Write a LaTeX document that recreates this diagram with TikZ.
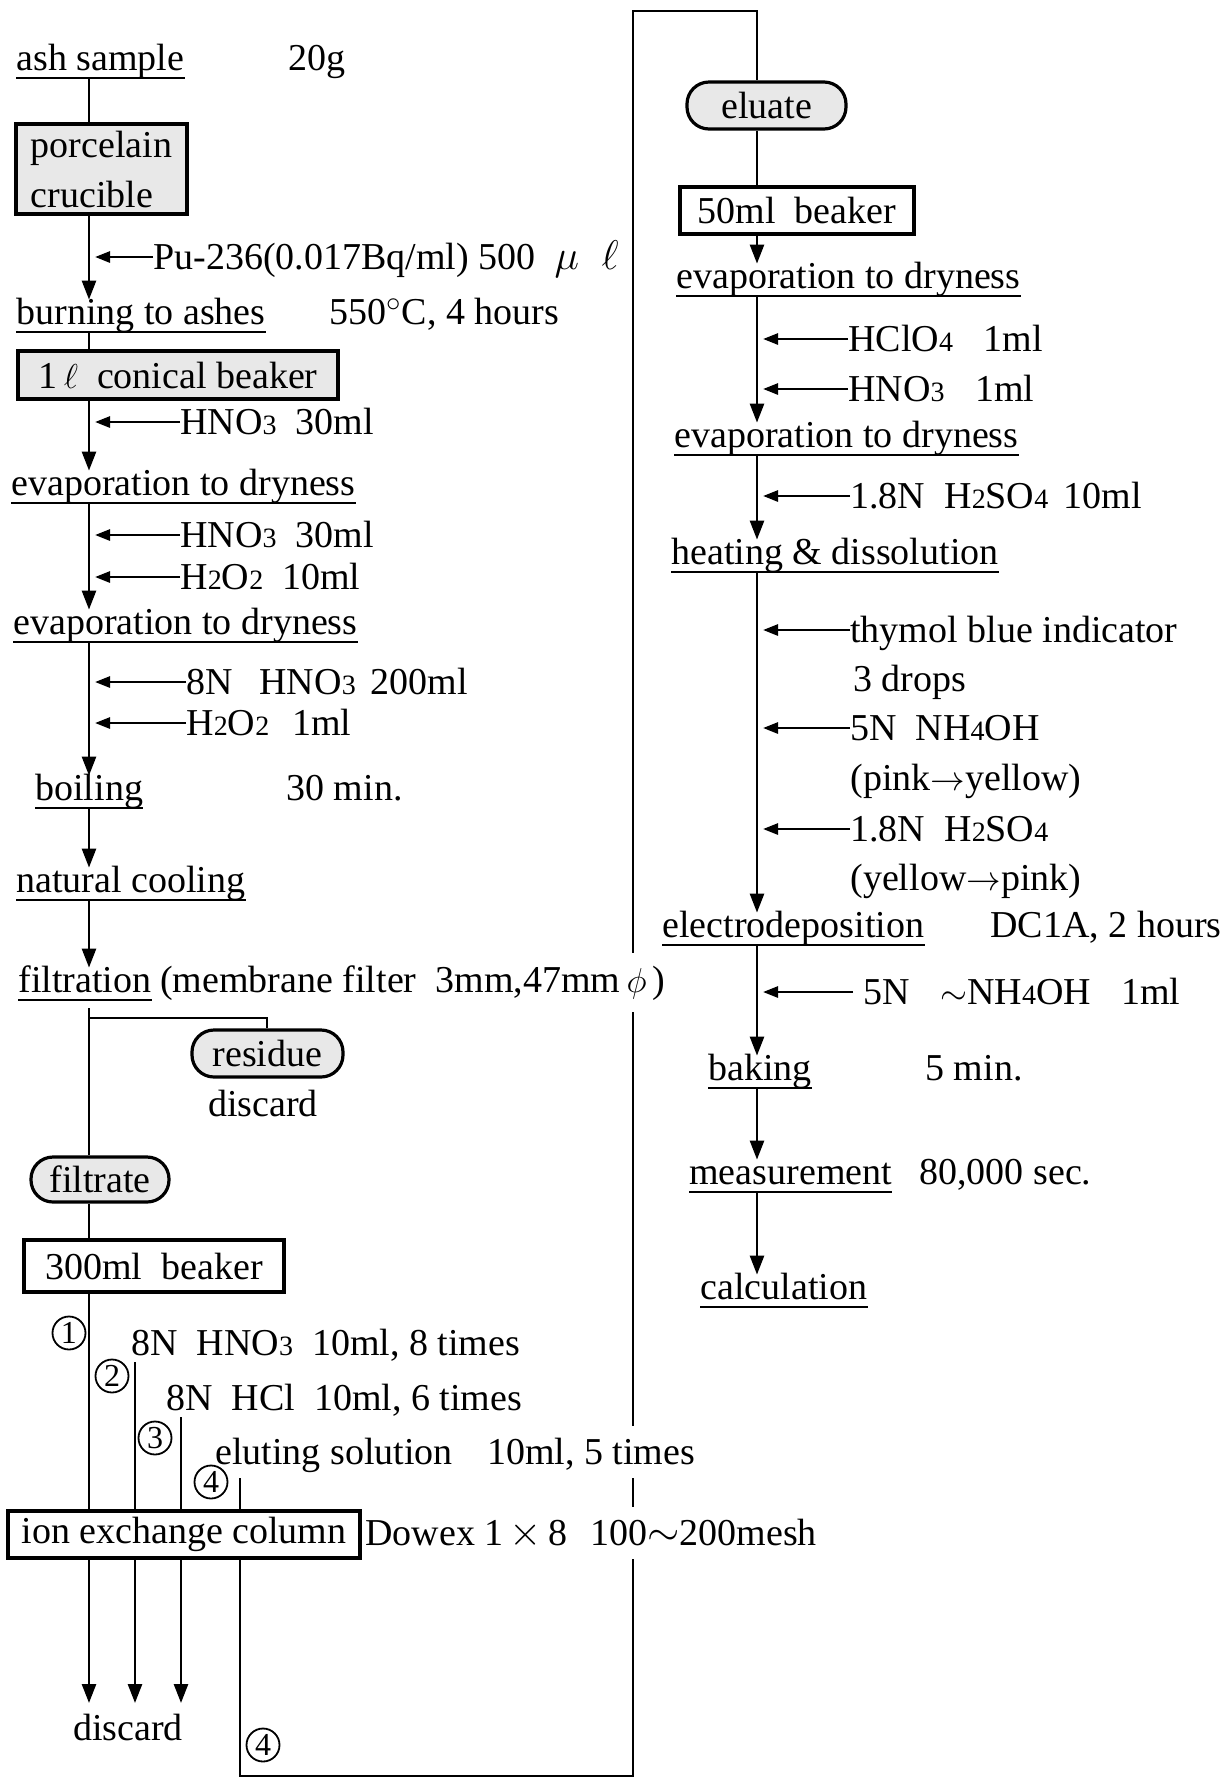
\documentclass[tikz,border=0pt]{standalone}
\usepackage{fontspec}
\setmainfont{Liberation Serif}
\usetikzlibrary{arrows.meta,backgrounds}
\newcommand\chemsub[1]{{\fontsize{14}{14}\selectfont #1}}
\newcommand\bigsym[1]{{\fontsize{22}{22}\selectfont$#1$}}
\begin{document}
\begin{tikzpicture}[x=0.5pt,y=-0.5pt,
  every node/.style={font=\fontsize{19}{23}\selectfont},
  ul/.style={inner sep=0pt, text height=12pt, text depth=4pt, anchor=base west},
  side/.style={inner sep=0pt, text height=13pt, text depth=1pt, anchor=west},
  plain/.style={inner sep=0pt, anchor=base west},
  box/.style={draw, line width=1.6pt, inner sep=0pt},
  gbox/.style={box, fill=black!9},
  rbox/.style={box, fill=black!9, rounded corners=11pt},
  num/.style={circle, draw, line width=0.9pt, minimum size=16.5pt, inner sep=0pt, font=\fontsize{16}{16}\selectfont},
  ln/.style={line width=1.3pt},
  arr/.style={ln, -{Triangle[length=9.5pt,width=7pt]}},
  sarr/.style={line width=1.3pt, -{Triangle[length=7.5pt,width=5.5pt]}},
]
\useasboundingbox (0,0) rectangle (1220,1779);
% ---------- left column ----------
\node[ul] (ash) at (16,70) {ash sample};
\node[plain] (g20) at (288,70) {20g};
\node[gbox, minimum width=85.5pt, minimum height=45pt, align=left, font=\fontsize{19}{25}\selectfont] (pc) at (101.5,169) {porcelain\\crucible};
\node[side] (pu) at (153,257) {Pu-236(0.017Bq/ml) 500\hspace{0.5em}\bigsym{\mu}\hspace{0.6em}\bigsym{\ell}};
\node[ul] (burn) at (16,324) {burning to ashes};
\node[plain] (t550) at (329,324) {550${}^{\circ}$C, 4 hours};
\node[gbox, minimum width=160pt, minimum height=24pt] (con) at (178,375) {1\,$\ell$\hspace{0.5em}conical beaker};
\node[side] (a1) at (180,422) {HNO\chemsub3\hspace{0.5em}30ml};
\node[ul] (ev1) at (11,495) {evaporation to dryness};
\node[side] (a2) at (180,535) {HNO\chemsub3\hspace{0.5em}30ml};
\node[side] (a3) at (180,577) {H\chemsub2O\chemsub2\hspace{0.5em}10ml};
\node[ul] (ev2) at (13,634) {evaporation to dryness};
\node[side] (a4) at (186,682) {8N\hspace{0.7em}HNO\chemsub3\hspace{0.4em}200ml};
\node[side] (a5) at (186,723) {H\chemsub2O\chemsub2\hspace{0.6em}1ml};
\node[ul] (boil) at (35,800) {boiling\hspace{5pt}};
\node[plain] (t30) at (286,800) {30 min.};
\node[ul] (cool) at (16,892) {natural cooling};
\node[ul] (filt) at (18,992) {filtration};
\node[plain, fill=white, inner ysep=6pt] (memb) at ([xshift=4pt]filt.base east) {(membrane filter\hspace{0.5em}3mm,47mm\,$\phi$\,)};
\node[rbox, minimum width=75.5pt, minimum height=23.5pt] (res) at (267.5,1053.5) {residue};
\node[plain, anchor=center] (disc1) at (263,1103) {discard};
\node[rbox, minimum width=69pt, minimum height=22.5pt] (filtrate) at (100,1179.5) {filtrate};
\node[box, minimum width=130pt, minimum height=26pt] (b300) at (154,1266) {300ml\hspace{0.5em}beaker};
\node[num] (n1) at (69,1333) {1};
\node[side] (e1) at (131,1343) {8N\hspace{0.5em}HNO\chemsub3\hspace{0.5em}10ml, 8 times};
\node[num] (n2) at (112,1376) {2};
\node[side] (e2) at (166,1398) {8N\hspace{0.5em}HCl\hspace{0.5em}10ml, 6 times};
\node[num] (n3) at (155,1438) {3};
\node[side, fill=white, inner ysep=6pt] (e3) at (215,1452) {eluting solution\hspace{0.9em}10ml, 5 times};
\node[num] (n4) at (211,1482) {4};
\node[box, minimum width=176pt, minimum height=23.5pt] (ion) at (184,1534.5) {ion exchange column};
\node[side, fill=white, inner ysep=6pt] (dow) at (365,1533) {Dowex 1\,\bigsym{\times}\,8\hspace{0.6em}100\bigsym{\sim}200mesh};
\node[plain, anchor=center] (disc2) at (128,1727) {discard};
\node[num] (n4b) at (263,1745) {4};
% ---------- right column ----------
\node[rbox, minimum width=79.5pt, minimum height=23.5pt] (elu) at (766.5,105.5) {eluate};
\node[box, minimum width=117pt, minimum height=23.5pt] (b50) at (797,210.5) {50ml\hspace{0.5em}beaker};
\node[ul] (ev3) at (676,288) {evaporation to dryness};
\node[side] (r1) at (848,339) {HClO\chemsub4\hspace{0.8em}1ml};
\node[side] (r2) at (848,389) {HNO\chemsub3\hspace{0.8em}1ml};
\node[ul] (ev4) at (674,447) {evaporation to dryness};
\node[side] (r3) at (850,496) {1.8N\hspace{0.5em}H\chemsub2SO\chemsub4\hspace{0.4em}10ml};
\node[ul] (heat) at (671,564) {heating \& dissolution};
\node[side] (r4) at (850,630) {thymol blue indicator};
\node[side] (r4b) at (853,679) {3 drops};
\node[side] (r5) at (850,728) {5N\hspace{0.5em}NH\chemsub4OH};
\node[side] (r5b) at (850,778) {(pink$\rightarrow$yellow)};
\node[side] (r6) at (850,829) {1.8N\hspace{0.5em}H\chemsub2SO\chemsub4};
\node[side] (r6b) at (850,878) {(yellow$\rightarrow$pink)};
\node[ul] (elec) at (662,937) {electrodeposition};
\node[plain] (dc) at (990,937) {DC1A, 2 hours};
\node[side] (r7) at (863,992) {5N\hspace{0.8em}$\sim$NH\chemsub4OH\hspace{0.8em}1ml};
\node[ul] (bak) at (708,1080) {baking};
\node[plain] (t5) at (925,1080) {5 min.};
\node[ul] (meas) at (689,1184) {measurement\hspace{6pt}};
\node[plain] (t80) at (919,1184) {80,000 sec.};
\node[ul] (calc) at (700,1299) {calculation};
% underlines
\foreach \n in {ash,burn,ev1,ev2,boil,cool,filt,ev3,ev4,heat,elec,bak,meas,calc}
  \draw[line width=1pt] (\n.south west) -- (\n.south east);
% coordinates
\coordinate (cL) at (89,0);
\coordinate (cR) at (757,0);
\coordinate (s2) at (135,1362);
\coordinate (s3) at (181,1417);
\coordinate (s4) at (240,1477);
\coordinate (d1) at (89,1703);
\coordinate (d2) at (135,1703);
\coordinate (d3) at (181,1703);
\coordinate (bl) at (240,1776);
\coordinate (br) at (633,1776);
\coordinate (tr) at (633,11);
\coordinate (rb) at (267,1018);
\begin{scope}[on background layer]
\fill[white] (0,0) rectangle (1220,1779);
\draw[ln] (cL |- ash.south) -- (cL |- pc.north);
\draw[arr] (cL |- pc.south) -- (cL |- burn.north);
\draw[ln] (cL |- burn.south) -- (cL |- con.north);
\draw[arr] (cL |- con.south) -- (cL |- ev1.north);
\draw[arr] (cL |- ev1.south) -- (cL |- ev2.north);
\draw[arr] (cL |- ev2.south) -- (cL |- boil.north);
\draw[arr] (cL |- boil.south) -- (cL |- cool.north);
\draw[arr] (cL |- cool.south) -- (cL |- filt.north);
\draw[ln] ([yshift=-4pt]cL |- filt.south) -- (cL |- filtrate.north);
\draw[ln] (cL |- rb) -- (rb) -- (rb |- res.north);
\draw[ln] (cL |- filtrate.south) -- (cL |- b300.north);
\draw[ln] (cL |- b300.south) -- (cL |- ion.north);
\draw[arr] (cL |- ion.south) -- (d1);
\draw[ln] (s2) -- (s2 |- ion.north);
\draw[arr] (s2 |- ion.south) -- (d2);
\draw[ln] (s3) -- (s3 |- ion.north);
\draw[arr] (s3 |- ion.south) -- (d3);
\draw[ln] (s4) -- (s4 |- ion.north);
\draw[ln] (s4 |- ion.south) -- (bl) -- (br) -- (tr) -- (tr -| cR) -- (cR |- elu.north);
\foreach \n in {pu,a1,a2,a3,a4,a5}
  \draw[sarr] (\n.west) -- ([xshift=3pt]cL |- \n.west);
\draw[ln] (cR |- elu.south) -- (cR |- b50.north);
\draw[arr] (cR |- b50.south) -- (cR |- ev3.north);
\draw[arr] (cR |- ev3.south) -- (cR |- ev4.north);
\draw[arr] (cR |- ev4.south) -- (cR |- heat.north);
\draw[arr] (cR |- heat.south) -- (cR |- elec.north);
\draw[arr] (cR |- elec.south) -- (cR |- bak.north);
\draw[arr] (cR |- bak.south) -- (cR |- meas.north);
\draw[arr] (cR |- meas.south) -- (cR |- calc.north);
\foreach \n in {r1,r2,r3,r4,r5,r6}
  \draw[sarr] (\n.west) -- ([xshift=3pt]cR |- \n.west);
\draw[sarr] ([xshift=-5pt]r7.west) -- ([xshift=3pt]cR |- r7.west);
\end{scope}
\end{tikzpicture}
\end{document}
